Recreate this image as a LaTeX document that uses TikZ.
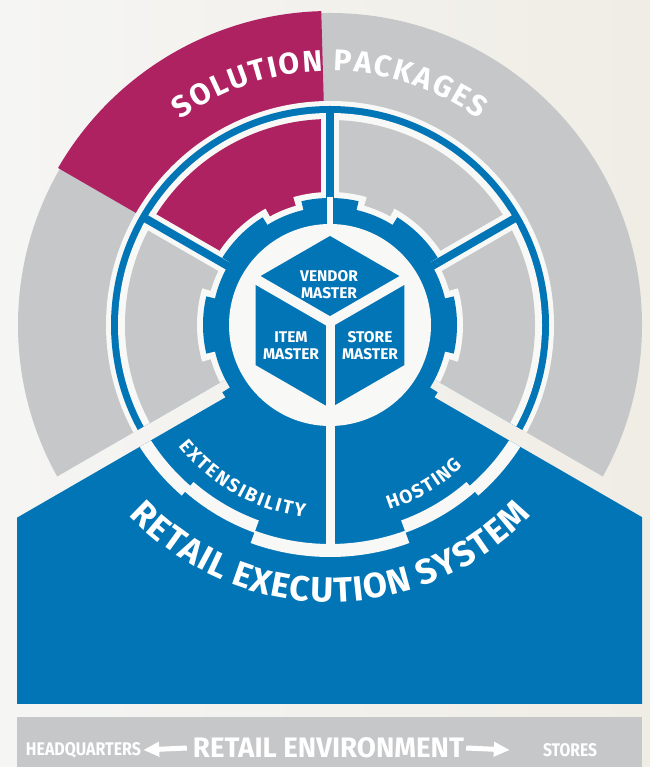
\documentclass[tikz,border=0pt]{standalone}
\usepackage{fontspec}
\setmainfont{Fira Sans}
\usetikzlibrary{calc,decorations.text,arrows.meta}
\definecolor{rblue}{RGB}{2,117,183}
\definecolor{rmag}{RGB}{174,34,98}
\definecolor{rgray}{RGB}{198,199,201}
\definecolor{rgap}{RGB}{248,248,246}
\definecolor{bgl}{RGB}{245,245,244}
\definecolor{bgr}{RGB}{240,237,229}
\tikzset{
  cubetext/.style={text=white, font=\fontsize{15.5}{17}\selectfont\bfseries, align=center, inner sep=0pt},
  bartext/.style={text=white, inner sep=0pt},
  envarrow/.style={draw=white, line width=5pt, -{Triangle[length=16pt,width=14pt]}},
}
\begin{document}
\begin{tikzpicture}[x=1pt,y=1pt]
\useasboundingbox (0,0) rectangle (650,767);
\shade[left color=bgl,right color=bgr] (0,0) rectangle (650,767);
\coordinate (C) at (330,442);
\coordinate (O) at (330,445);
% ---------- upper disc ----------
\begin{scope}
  \clip (0,767) -- (0,{448-330*tan(30)}) -- (330,448) -- (650,{448-320*tan(30)}) -- (650,767) -- cycle;
  \fill[rgray] (C) circle[radius=312];
  \fill[rmag] (C) -- ($(C)+(150:314)$) arc[start angle=150,end angle=91.6,radius=314] -- cycle;
  \fill[rgap] (C) circle[radius=224];
  \fill[rblue] (C) circle[radius=219];
  \fill[rgap] (C) circle[radius=212];
  \fill[rgray] (C) circle[radius=205];
  \fill[rmag] (C) -- ($(C)+(150:206)$) arc[start angle=150,end angle=90,radius=206] -- cycle;
  \foreach \a in {30,90,150} \draw[rgap,line width=18pt] (C) -- ($(C)+(\a:212)$);
  \fill[rgap] (C) circle[radius=124];
  \foreach \a in {0,45,...,315}
    \fill[rgap] (C) -- ($(C)+({\a-16}:133)$) arc[start angle={\a-16},end angle={\a+16},radius=133] -- cycle;
  \foreach \a in {30,90,150} \draw[rblue,line width=8pt] (C) -- ($(C)+(\a:216)$);
\end{scope}
% ---------- lower blue house ----------
\fill[rblue] (17,{430-313*tan(30)}) -- (330,430) -- (642,{430-312*tan(30)}) -- (642,63) -- (17,63) -- cycle;
\begin{scope}
  \clip (17,{430-313*tan(30)}) -- (330,430) -- (642,{430-312*tan(30)}) -- (642,63) -- (17,63) -- cycle;
  \fill[rgap] ($(C)+(200:213)$) arc[start angle=200,end angle=229,radius=213]
    -- ($(C)+(229:208)$) arc[start angle=229,end angle=250,radius=208]
    -- ($(C)+(250:219)$) arc[start angle=250,end angle=290,radius=219]
    -- ($(C)+(290:208)$) arc[start angle=290,end angle=311,radius=208]
    -- ($(C)+(311:213)$) arc[start angle=311,end angle=340,radius=213]
    -- ($(C)+(340:226)$) arc[start angle=340,end angle=311,radius=226]
    -- ($(C)+(311:221)$) arc[start angle=311,end angle=290,radius=221]
    -- ($(C)+(290:232)$) arc[start angle=290,end angle=250,radius=232]
    -- ($(C)+(250:221)$) arc[start angle=250,end angle=229,radius=221]
    -- ($(C)+(229:226)$) arc[start angle=229,end angle=200,radius=226] -- cycle;
\end{scope}
% ---------- gear ----------
\fill[rblue] (C) circle[radius=118];
\foreach \a in {0,45,...,315}
  \fill[rblue] (C) -- ($(C)+({\a-13}:127)$) arc[start angle={\a-13},end angle={\a+13},radius=127] -- cycle;
\fill[rgap] (C) circle[radius=101];
\draw[rgap,line width=6pt] ($(C)+(90:95)$) -- ($(C)+(90:128)$);
% ---------- cube ----------
\fill[rblue] (O) -- ($(O)+(150:86)$) -- ($(O)+(90:86)$) -- ($(O)+(30:86)$) -- cycle;
\fill[rblue] (O) -- ($(O)+(150:86)$) -- ($(O)+(210:86)$) -- ($(O)+(270:86)$) -- cycle;
\fill[rblue] (O) -- ($(O)+(270:86)$) -- ($(O)+(330:86)$) -- ($(O)+(30:86)$) -- cycle;
\draw[rgap,line width=10pt] (O) -- ($(O)+(150:95)$);
\draw[rgap,line width=10pt] (O) -- ($(O)+(30:95)$);
\draw[rgap,line width=9pt] ($(O)+(90:5)$) -- ($(C)+(270:222)$);
\node[cubetext] (vendor) at (329,482) {VENDOR\\MASTER};
\node[cubetext] (item) at (291,421) {ITEM\\MASTER};
\node[cubetext] (store) at (370,421) {STORE\\MASTER};
% ---------- curved labels ----------
\path[decorate,decoration={text along path,text align=center,
  text={|\fontsize{30}{30}\selectfont\bfseries\color{white}|S{\kern2pt}O{\kern2pt}L{\kern2pt}U{\kern2pt}T{\kern2pt}I{\kern2pt}O{\kern2pt}N{\kern3pt} P{\kern2pt}A{\kern2pt}C{\kern2pt}K{\kern2pt}A{\kern2pt}G{\kern2pt}E{\kern2pt}S}}]
  ($(C)+(145:254)$) arc[start angle=145,end angle=35,radius=254];
\path[decorate,decoration={text along path,text align=center,
  text={|\fontsize{35}{35}\selectfont\bfseries\color{white}|R{\kern1.2pt}E{\kern1.2pt}T{\kern1.2pt}A{\kern1.2pt}I{\kern1.2pt}L{\kern1.2pt} E{\kern1.2pt}X{\kern1.2pt}E{\kern1.2pt}C{\kern1.2pt}U{\kern1.2pt}T{\kern1.2pt}I{\kern1.2pt}O{\kern1.2pt}N{\kern1.2pt} S{\kern1.2pt}Y{\kern1.2pt}S{\kern1.2pt}T{\kern1.2pt}E{\kern1.2pt}M}}]
  ($(C)+(195:277)$) arc[start angle=195,end angle=345,radius=277];
\path[decorate,decoration={text along path,text align=center,
  text={|\fontsize{19}{19}\selectfont\bfseries\color{white}|E{\kern2pt}X{\kern2pt}T{\kern2pt}E{\kern2pt}N{\kern2pt}S{\kern2pt}I{\kern2pt}B{\kern2pt}I{\kern2pt}L{\kern2pt}I{\kern2pt}T{\kern2pt}Y}}]
  ($(C)+(205:194)$) arc[start angle=205,end angle=276,radius=194];
\path[decorate,decoration={text along path,text align=center,
  text={|\fontsize{19}{19}\selectfont\bfseries\color{white}|H{\kern1.5pt}O{\kern1.5pt}S{\kern1.5pt}T{\kern1.5pt}I{\kern1.5pt}N{\kern1.5pt}G}}]
  ($(C)+(265:194)$) arc[start angle=265,end angle=336,radius=194];
% ---------- bottom bar ----------
\fill[rgray] (17,0) rectangle (642,50);
\node[bartext] (hq) at (83.5,17) {\resizebox{115pt}{13pt}{\bfseries HEADQUARTERS}};
\node[bartext] (env) at (328.5,19) {\resizebox{271pt}{20pt}{\bfseries RETAIL ENVIRONMENT}};
\node[bartext] (st) at (570,17) {\resizebox{54pt}{13pt}{\bfseries STORES}};
\draw[envarrow] ([xshift=-6pt]env.west) -- ([xshift=2pt]hq.east);
\draw[envarrow] ([xshift=2pt]env.east) -- ([xshift=-33pt]st.west);
\end{tikzpicture}
\end{document}
